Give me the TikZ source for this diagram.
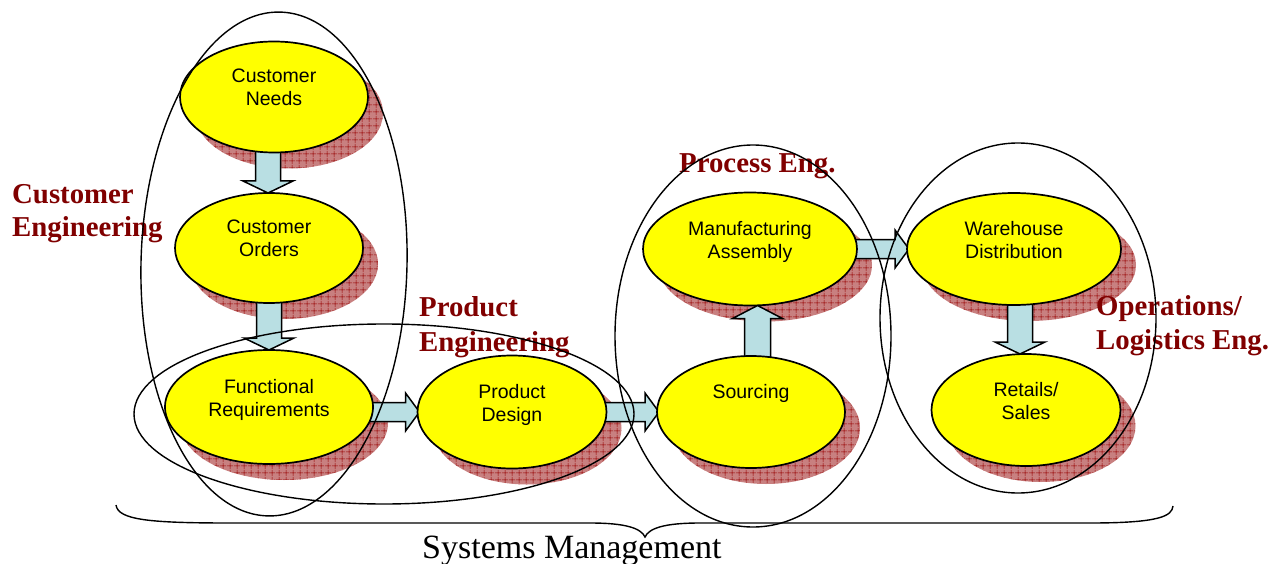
\documentclass[tikz,border=0pt]{standalone}
\usepackage{fontspec}
\setmainfont{Liberation Serif}
\newfontfamily\arialfont{Liberation Sans}
\usetikzlibrary{calc,shapes.geometric,patterns.meta}
\pgfdeclarelayer{shadowlayer}
\pgfdeclarelayer{arrowlayer}
\pgfsetlayers{shadowlayer,arrowlayer,main}
\definecolor{procyellow}{RGB}{255,255,0}
\definecolor{arrowblue}{RGB}{185,223,227}
\definecolor{shadowred}{RGB}{200,128,128}
\definecolor{gridred}{RGB}{150,0,0}
\definecolor{labelred}{RGB}{128,0,0}
\tikzset{
  procell/.style={ellipse, draw=black, line width=1.7pt, fill=procyellow, inner sep=0pt, outer sep=0pt},
  shadowell/.style={ellipse, inner sep=0pt, outer sep=0pt, fill=shadowred,
    postaction={pattern={Hatch[angle=0,distance=6.5pt,line width=0.55pt]}, pattern color=gridred}},
  proctext/.style={anchor=north, inner sep=0pt, align=center, font=\arialfont\fontsize{19.5}{23}\selectfont},
  blk/.style={draw=black, line width=1.5pt, fill=arrowblue, line join=miter},
  grpell/.style={ellipse, draw=black, line width=1.4pt, inner sep=0pt, outer sep=0pt},
  grplabel/.style={anchor=north west, inner sep=0pt, align=left, text=labelred, font=\bfseries\fontsize{28.8}{33}\selectfont},
  bracepath/.style={draw=black, line width=1.4pt}
}
% process ellipse with shadow and text: name, x, y, width, height, text
\newcommand\procnode[6]{%
  \begin{pgfonlayer}{shadowlayer}
    \node[shadowell, minimum width=#4pt, minimum height=#5pt] (#1-sh) at ($(#2,#3)+(15,16)$) {};
  \end{pgfonlayer}
  \node[procell, minimum width=#4pt, minimum height=#5pt] (#1) at (#2,#3) {};
  \node[proctext] (#1-txt) at ([yshift=28pt]#1.center) {#6};
}
% block arrows: from, to, offset
\newcommand\downblk[3]{%
  \begin{pgfonlayer}{arrowlayer}
  \draw[blk] let \p1=(#1.center), \p2=(#2.center), \p3=(#1.south), \p4=(#2.north) in
    ({0.5*\x1+0.5*\x2+#3pt-12.5pt},{\y3+6pt}) -- ({0.5*\x1+0.5*\x2+#3pt+12.5pt},{\y3+6pt})
    -- ({0.5*\x1+0.5*\x2+#3pt+12.5pt},{\y4+12pt}) -- ({0.5*\x1+0.5*\x2+#3pt+25pt},{\y4+12pt})
    -- ({0.5*\x1+0.5*\x2+#3pt},{\y4}) -- ({0.5*\x1+0.5*\x2+#3pt-25pt},{\y4+12pt})
    -- ({0.5*\x1+0.5*\x2+#3pt-12.5pt},{\y4+12pt}) -- cycle;
  \end{pgfonlayer}}
\newcommand\upblk[3]{%
  \begin{pgfonlayer}{arrowlayer}
  \draw[blk] let \p1=(#1.center), \p2=(#2.center), \p3=(#1.north), \p4=(#2.south) in
    ({0.5*\x1+0.5*\x2+#3pt-13pt},{\y3-6pt}) -- ({0.5*\x1+0.5*\x2+#3pt+13pt},{\y3-6pt})
    -- ({0.5*\x1+0.5*\x2+#3pt+13pt},{\y4-13pt}) -- ({0.5*\x1+0.5*\x2+#3pt+25pt},{\y4-13pt})
    -- ({0.5*\x1+0.5*\x2+#3pt},{\y4}) -- ({0.5*\x1+0.5*\x2+#3pt-25pt},{\y4-13pt})
    -- ({0.5*\x1+0.5*\x2+#3pt-13pt},{\y4-13pt}) -- cycle;
  \end{pgfonlayer}}
\newcommand\rightblk[3]{%
  \begin{pgfonlayer}{arrowlayer}
  \draw[blk] let \p2=(#2.center), \p3=(#1.east), \p4=(#2.west) in
    ({\x3-6pt},{\y2-#3pt+9.5pt}) -- ({\x4-12pt},{\y2-#3pt+9.5pt})
    -- ({\x4-12pt},{\y2-#3pt+19pt}) -- ({\x4+2pt},{\y2-#3pt})
    -- ({\x4-12pt},{\y2-#3pt-19pt}) -- ({\x4-12pt},{\y2-#3pt-9.5pt})
    -- ({\x3-6pt},{\y2-#3pt-9.5pt}) -- cycle;
  \end{pgfonlayer}}
\begin{document}
\begin{tikzpicture}[x=1pt,y=-1pt]
\useasboundingbox (0,0) rectangle (1284,564);
\procnode{needs}{274}{97}{188}{111}{Customer\\Needs}
\procnode{orders}{269}{248}{188}{110}{Customer\\Orders}
\procnode{func}{269}{407}{208}{114}{Functional\\Requirements}
\procnode{design}{512}{412}{189}{113}{Product\\Design}
\procnode{sourcing}{751}{412}{188}{112}{Sourcing}
\procnode{mfg}{750}{249}{214}{113}{Manufacturing\\Assembly}
\procnode{wh}{1014}{249}{214}{112}{Warehouse\\Distribution}
\procnode{retail}{1026}{410}{189}{112}{Retails/\\Sales}
\downblk{needs}{orders}{-3.5}
\downblk{orders}{func}{0}
\downblk{wh}{retail}{0}
\upblk{sourcing}{mfg}{7}
\rightblk{func}{design}{0}
\rightblk{design}{sourcing}{0}
\rightblk{mfg}{wh}{0}
\node[grplabel] (lce) at (12,184) {Customer\\Engineering};
\node[grplabel, font=\bfseries\fontsize{28.8}{35}\selectfont] (lpe) at (419,296) {Product\\Engineering};
\node[grplabel] (lpr) at (679,153) {Process Eng.};
\node[grplabel, font=\bfseries\fontsize{28.8}{34}\selectfont] (lop) at (1096,295) {Operations/\\Logistics Eng.};
\node[grpell, minimum width=266pt, minimum height=504pt, rotate=-1.4] (gce) at (274,264) {};
\node[grpell, minimum width=500pt, minimum height=180pt] (gpe) at (384,414) {};
\node[grpell, minimum width=276pt, minimum height=382pt] (gpr) at (753,336) {};
\node[grpell, minimum width=276pt, minimum height=350pt] (gop) at (1018,318) {};
\node[anchor=base west, inner sep=0pt, font=\fontsize{34}{40}\selectfont] (sm) at (422,558) {Systems Management};
\coordinate (bl) at (116,505);
\coordinate (btip) at (645,537);
\coordinate (br) at (1173,506);
\draw[bracepath] (bl) .. controls (118,520) and (150,523) .. (230,523) -- (590,523)
  .. controls (625,523) and (641,528) .. (btip)
  .. controls (649,528) and (665,523) .. (700,523) -- (1090,523)
  .. controls (1160,523) and (1172,516) .. (br);
\end{tikzpicture}
\end{document}
